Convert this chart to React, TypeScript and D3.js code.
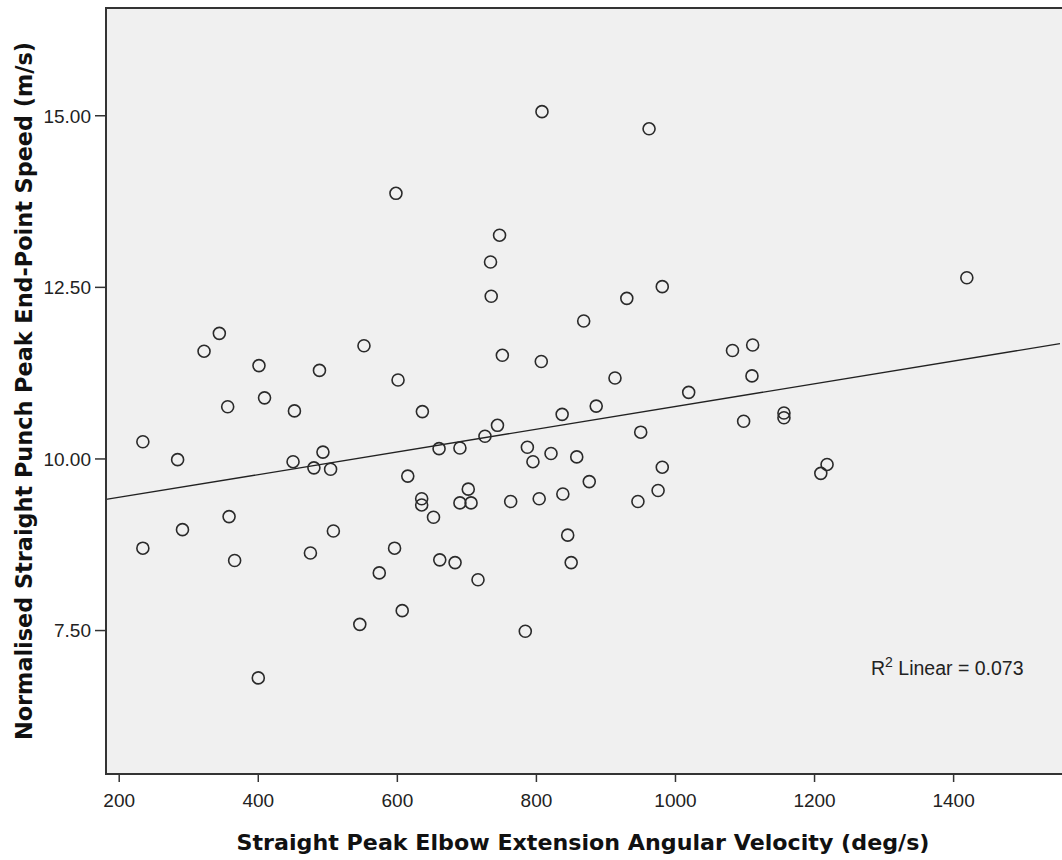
import * as d3 from "d3";

// elbow extension angular velocity (deg/s)
const velocity = [
  808, 962, 598, 344, 322, 401, 488, 552, 601, 747, 734, 735, 930, 981, 868, 751, 807, 913,
  1082, 1111, 1110, 1019, 1419, 356, 409, 452, 636, 234, 284, 450, 493, 480, 504, 615, 635,
  635, 358, 291, 508, 234, 366, 475, 596, 574, 607, 546, 400, 1098, 886, 837, 744, 726, 950,
  660, 690, 787, 795, 821, 858, 981, 876, 702, 690, 706, 763, 804, 838, 946, 975, 652, 845,
  850, 661, 683, 716, 784, 1156, 1156, 1218, 1209,
];

// normalised punch end-point speed (m/s)
const speed = [
  15.06, 14.81, 13.87, 11.83, 11.57, 11.36, 11.29, 11.65, 11.15, 13.26, 12.87, 12.37, 12.34,
  12.51, 12.01, 11.51, 11.42, 11.18, 11.58, 11.66, 11.21, 10.97, 12.64, 10.76, 10.89, 10.7,
  10.69, 10.25, 9.99, 9.96, 10.1, 9.87, 9.85, 9.75, 9.42, 9.33, 9.16, 8.97, 8.95, 8.7, 8.52,
  8.63, 8.7, 8.34, 7.79, 7.59, 6.81, 10.55, 10.77, 10.65, 10.49, 10.33, 10.39, 10.15, 10.16,
  10.17, 9.96, 10.08, 10.03, 9.88, 9.67, 9.56, 9.36, 9.36, 9.38, 9.42, 9.49, 9.38, 9.54, 9.15,
  8.89, 8.49, 8.53, 8.49, 8.24, 7.49, 10.67, 10.6, 9.92, 9.79,
];

const xTicks = [200, 400, 600, 800, 1000, 1200, 1400];
const yTicks = [7.5, 10, 12.5, 15];

// fit line as drawn in the chart
const FIT_INTERCEPT = 9.11;
const FIT_SLOPE = 0.001655;
const R2 = 0.073;

const W = 1062;
const H = 860;
const left = 106;
const right = 1060;
const top = 8;
const bottom = 774;

const App = () => {
  const x = d3.scaleLinear().domain([181, 1553]).range([left, right]);
  const y = d3.scaleLinear().domain([5.41, 16.57]).range([bottom, top]);
  const fmt = d3.format(".2f");

  const points = velocity.map((v, i) => ({ v, s: speed[i] }));
  const [x0, x1] = x.domain();
  const fitLine = d3
    .line<number>()
    .x((d) => x(d))
    .y((d) => y(FIT_INTERCEPT + FIT_SLOPE * d));

  const font = "'Liberation Sans', Arial, sans-serif";
  const titleFont = "'DejaVu Sans', Verdana, sans-serif";

  return (
    <svg
      width={W}
      height={H}
      style={{ position: "absolute", left: 0, top: 0, background: "#fff" }}
    >
      <rect x={left} y={top} width={W - left} height={bottom - top} fill="#f0f0f0" />

      <path d={fitLine([x0, x1]) || ""} fill="none" stroke="#222" strokeWidth={1.3} />

      {points.map((p, i) => (
        <circle
          key={i}
          cx={x(p.v)}
          cy={y(p.s)}
          r={6}
          fill="none"
          stroke="#2a2a2a"
          strokeWidth={1.6}
        />
      ))}

      {/* frame */}
      <line x1={left} x2={W} y1={top} y2={top} stroke="#333" strokeWidth={2} />
      <line x1={left} x2={W} y1={bottom} y2={bottom} stroke="#333" strokeWidth={2} />
      <line x1={left} x2={left} y1={top - 1} y2={bottom + 1} stroke="#333" strokeWidth={2} />

      {xTicks.map((t) => (
        <g key={t} transform={`translate(${x(t)},0)`}>
          <line y1={bottom} y2={bottom + 8} stroke="#333" strokeWidth={1.5} />
          <text
            y={807}
            textAnchor="middle"
            fontFamily={font}
            fontSize={19}
            fill="#222"
          >
            {t}
          </text>
        </g>
      ))}

      {yTicks.map((t) => (
        <g key={t} transform={`translate(0,${y(t)})`}>
          <line x1={left - 11} x2={left} stroke="#333" strokeWidth={1.5} />
          <text
            x={91}
            dy="0.36em"
            textAnchor="end"
            fontFamily={font}
            fontSize={19}
            fill="#222"
          >
            {fmt(t)}
          </text>
        </g>
      ))}

      <text
        x={(left + right) / 2}
        y={850}
        textAnchor="middle"
        fontFamily={titleFont}
        fontWeight="bold"
        fontSize={22}
        fill="#111"
        textLength={693}
        lengthAdjust="spacingAndGlyphs"
      >
        Straight Peak Elbow Extension Angular Velocity (deg/s)
      </text>

      <text
        transform={`translate(32,${(top + bottom) / 2}) rotate(-90)`}
        textAnchor="middle"
        fontFamily={titleFont}
        fontWeight="bold"
        fontSize={23}
        fill="#111"
        textLength={698}
        lengthAdjust="spacingAndGlyphs"
      >
        Normalised Straight Punch Peak End-Point Speed (m/s)
      </text>

      <text x={871} y={675} fontFamily={font} fontSize={19.5} fill="#222">
        R
        <tspan dy={-8} fontSize={14}>
          2
        </tspan>
        <tspan dy={8}> Linear = {R2.toFixed(3)}</tspan>
      </text>
    </svg>
  );
};

export default App;
